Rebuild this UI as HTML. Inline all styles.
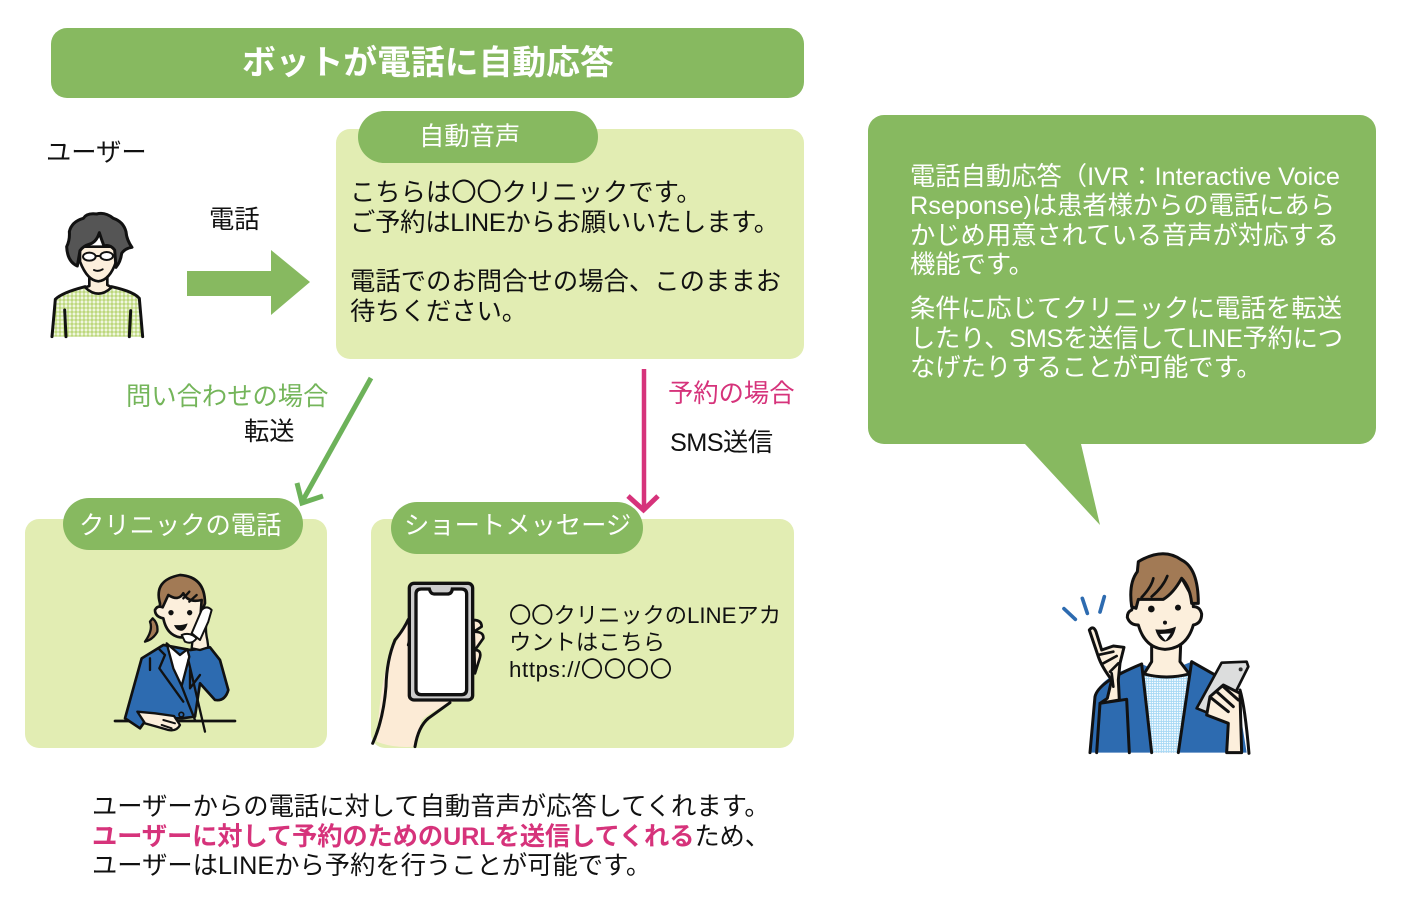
<!DOCTYPE html>
<html><head><meta charset="utf-8"><style>
html,body{margin:0;padding:0;background:#fff}
svg{display:block}
text{font-family:"Liberation Sans","Noto Sans CJK JP",sans-serif;font-size:25.3px;fill:#111}
.w{fill:#fff}
.o{stroke:#111;stroke-linejoin:round;stroke-linecap:round}
</style></head><body>
<svg width="1404" height="904" viewBox="0 0 1404 904" xmlns="http://www.w3.org/2000/svg">
<defs>
<pattern id="pl" width="12" height="12" patternUnits="userSpaceOnUse"><rect width="12" height="12" fill="#dcebb4"/><path d="M0 3H12M0 9H12M3 0V12M9 0V12" stroke="#fff" stroke-width="2"/><path d="M6 0V12M0 6H12" stroke="#9cc43c" stroke-width="2.500"/></pattern>
<pattern id="bl" width="15" height="15" patternUnits="userSpaceOnUse"><rect width="15" height="15" fill="#fff"/><path d="M4 0V15M11 0V15M0 4H15M0 11H15" stroke="#a6d8f5" stroke-width="3"/></pattern>
</defs>

<rect x="51" y="28" width="753" height="70" rx="16" fill="#87b960"/>
<text class="w" x="242" y="74" style="font-size:33.8px;font-weight:700">ボットが電話に自動応答</text>

<text x="46" y="161">ユーザー</text>
<text x="209" y="228">電話</text>
<path d="M187 271H271V250L310 282L271 315V296H187Z" fill="#87b960"/>

<rect x="336" y="129" width="468" height="230" rx="14" fill="#e2edb3"/>
<rect x="358" y="111" width="240" height="52" rx="26" fill="#87b960"/>
<text class="w" x="419" y="145">自動音声</text>
<text x="350" y="201">こちらは〇〇クリニックです。</text>
<text x="350" y="231" textLength="429">ご予約はLINEからお願いいたします。</text>
<text x="350" y="290" textLength="431">電話でのお問合せの場合、このままお</text>
<text x="350" y="320">待ちください。</text>

<path d="M371 378L303 500" fill="none" stroke="#6db25a" stroke-width="5"/>
<path d="M297 483L302 503L323 496" fill="none" stroke="#6db25a" stroke-width="5"/>
<path d="M644 369V510" fill="none" stroke="#d6337b" stroke-width="4.5"/>
<path d="M628 496L643.500 510L658 496" fill="none" stroke="#d6337b" stroke-width="5"/>
<text x="126" y="405" style="fill:#74b55a">問い合わせの場合</text>
<text x="244" y="440">転送</text>
<text x="668" y="402" style="fill:#d6337b">予約の場合</text>
<text x="670" y="451" textLength="103">SMS送信</text>

<rect x="25" y="519" width="302" height="229" rx="14" fill="#e2edb3"/>
<rect x="63" y="498" width="240" height="52" rx="26" fill="#87b960"/>
<text class="w" x="79" y="534">クリニックの電話</text>

<rect x="371" y="519" width="423" height="229" rx="14" fill="#e2edb3"/>
<rect x="391" y="502" width="252" height="52" rx="26" fill="#87b960"/>
<text class="w" x="404" y="534">ショートメッセージ</text>
<text x="509" y="623" style="font-size:22.3px" textLength="272">〇〇クリニックのLINEアカ</text>
<text x="509" y="650" style="font-size:22.3px">ウントはこちら</text>
<text x="509" y="677" style="font-size:22.3px" textLength="163">https://〇〇〇〇</text>

<path d="M868 131a16 16 0 0 1 16-16H1360a16 16 0 0 1 16 16V428a16 16 0 0 1-16 16H1081L1100 525L1025 444H884a16 16 0 0 1-16-16Z" fill="#87b960"/>
<text class="w" x="910" y="185" textLength="430">電話自動応答（IVR：Interactive Voice</text>
<text class="w" x="910" y="214" textLength="425">Rseponse)は患者様からの電話にあら</text>
<text class="w" x="910" y="244" textLength="429">かじめ用意されている音声が対応する</text>
<text class="w" x="910" y="273">機能です。</text>
<text class="w" x="910" y="317" textLength="432">条件に応じてクリニックに電話を転送</text>
<text class="w" x="910" y="347" textLength="433">したり、SMSを送信してLINE予約につ</text>
<text class="w" x="910" y="376">なげたりすることが可能です。</text>

<text x="92" y="815">ユーザーからの電話に対して自動音声が応答してくれます。</text>
<text x="92" y="845" textLength="678"><tspan style="fill:#d6337b;font-weight:700">ユーザーに対して予約のためのURLを送信してくれる</tspan>ため、</text>
<text x="92" y="874">ユーザーはLINEから予約を行うことが可能です。</text>

<!-- user -->
<g transform="translate(30 190) scale(.3333)">
<path d="M68 440L76 328Q95 308 165 290Q205 325 245 290Q312 305 328 325L338 440Z" fill="url(#pl)"/>
<path class="o" d="M66 440L76 328Q95 308 165 290M245 290Q312 305 328 325L338 440M104 360L108 440M302 362L298 440" fill="none" stroke-width="9"/>
<path class="o" d="M178 255V288L165 292Q205 330 245 292L232 285V255Z" fill="#fcefdc" stroke-width="8"/>
<path class="o" d="M150 170V215Q172 272 205 274Q240 270 258 215V170Z" fill="#fcefdc" stroke-width="8"/>
<path class="o" d="M142 228Q112 215 110 170Q120 150 118 125Q125 95 160 85Q170 68 200 72Q225 65 250 85Q280 95 288 125Q290 150 306 172Q285 175 275 190Q272 215 258 232L254 180Q240 162 222 168Q215 150 208 128Q200 155 180 162Q160 168 150 182Z" fill="#555" stroke-width="9"/>
<ellipse cx="178" cy="200" rx="19" ry="12" fill="#fff" stroke="#111" stroke-width="6"/>
<ellipse cx="230" cy="198" rx="19" ry="12" fill="#fff" stroke="#111" stroke-width="6"/>
<path class="o" d="M197 198L211 198M192 240Q205 246 218 238" fill="none" stroke-width="6"/>
</g>

<!-- operator -->
<g transform="translate(100 560) scale(.3333)">
<path class="o" d="M45 483H405" stroke-width="8" fill="none"/>
<path class="o" d="M180 130Q160 60 240 45Q315 50 315 130L300 170L180 170Z" fill="#a27a55" stroke-width="8"/>
<path class="o" d="M158 175Q175 190 172 215Q160 238 135 245Q160 210 150 185Z" fill="#a27a55" stroke-width="7"/>
<path class="o" d="M205 105Q235 125 250 100Q265 130 305 120L300 190Q280 235 240 232Q200 225 190 175Q165 170 165 150Q172 135 188 142Z" fill="#fcefdc" stroke-width="8"/>
<circle cx="213" cy="158" r="8" fill="#111"/><circle cx="269" cy="158" r="8" fill="#111"/>
<path d="M222 195Q245 197 263 190Q255 215 240 212Q228 210 222 195Z" fill="#111"/>
<path class="o" d="M250 115L268 95M268 125L290 105" stroke-width="7" fill="none"/>
<path class="o" d="M125 295L190 255L270 270L330 262L360 300L385 390Q375 425 345 420L300 370L285 470L245 475H165L145 470L120 505L75 475Z" fill="#2d6bb0" stroke-width="8"/>
<path class="o" d="M200 250L240 285L262 268L268 290L245 378L220 325Z" fill="#fff" stroke-width="7"/>
<path class="o" d="M178 268L195 285L178 325L250 425M150 295V330M270 330V385L300 345M245 378L265 430L285 480M265 300L315 515" fill="none" stroke-width="7"/>
<path class="o" d="M112 455L165 460L222 468L240 495Q230 515 205 510L170 500L135 490Z" fill="#fcefdc" stroke-width="7"/>
<path class="o" d="M190 480L225 490M185 495L215 505" fill="none" stroke-width="6"/>
<path class="o" d="M300 270L325 262L322 240Q315 210 320 185L295 190L280 220L275 265Z" fill="#fcefdc" stroke-width="7"/>
<path class="o" d="M275 220L305 150Q320 135 335 150L325 185L300 240Z" fill="#fff" stroke-width="6"/>
<path class="o" d="M245 225Q270 215 290 235Q275 255 255 245Z" fill="#fff" stroke-width="6"/>
<circle cx="244" cy="464" r="7" fill="#2d6bb0" stroke="#111" stroke-width="5"/>
</g>

<!-- phone -->
<g transform="translate(360 570) scale(.3333)">
<path d="M50 515Q60 350 85 270Q110 210 145 150L160 155L150 370L280 395Q220 420 185 450L165 530Q100 535 50 515Z" fill="#fcebd6"/>
<path class="o" d="M38 520Q70 450 78 350Q80 270 105 210Q130 180 145 148Q160 150 160 170L145 225" fill="none" stroke-width="9"/>
<path class="o" d="M165 530Q175 470 205 445L270 398" fill="none" stroke-width="9"/>
<path class="o" d="M340 150Q365 150 365 170L342 185Q372 185 370 205L345 240Q365 240 360 262L345 310Z" fill="#fcebd6" stroke-width="8"/>
<rect x="148" y="40" width="190" height="350" rx="14" fill="#ccc" stroke="#111" stroke-width="10"/>
<path d="M184 57H208Q212 72 222 72H262Q275 72 277 57H304Q320 57 320 72V358Q320 374 304 374H184Q168 374 168 358V72Q168 57 184 57Z" fill="#fff" stroke="#111" stroke-width="10"/>
</g>

<!-- man -->
<g transform="translate(1050 540) scale(.3333)">
<path class="o" d="M42 206L76 238M97 175L112 220M163 170L150 216" style="stroke:#2d6bb0" stroke-width="11" fill="none"/>
<path d="M120 638L135 470Q145 410 275 372L340 400L425 365Q500 400 560 450L590 638Z" fill="#2d6bb0"/>
<path d="M283 405H415L385 638H305Z" fill="url(#bl)"/>
<path class="o" d="M305 315V365L282 402Q350 420 418 402L390 365L392 315Z" fill="#fcefdc" stroke-width="9"/>
<path class="o" d="M275 372L305 638M425 365L385 638M120 638L135 470Q145 425 275 372M425 365L495 405M570 450Q585 500 597 640" fill="none" stroke-width="9"/>
<path class="o" d="M245 210Q232 215 232 232Q240 255 265 255Q285 325 345 328Q410 325 430 255Q455 250 455 222Q450 200 430 200L425 100L280 100Z" fill="#fcefdc" stroke-width="9"/>
<path class="o" d="M245 200Q235 130 262 95L265 65Q340 20 395 60Q445 85 445 190L425 190Q420 140 395 115Q370 160 340 178H265L258 205Z" fill="#a27a55" stroke-width="9"/>
<path class="o" d="M275 172Q305 140 310 115M305 170Q340 140 352 108M395 115L420 160" fill="none" stroke-width="8"/>
<circle cx="304" cy="207" r="10" fill="#111"/><circle cx="384" cy="203" r="9" fill="#111"/><circle cx="345" cy="248" r="6" fill="#111"/>
<path d="M316 268Q350 272 378 260Q370 300 345 305Q325 300 316 268Z" fill="#111"/>
<path d="M330 282L362 280L347 302Z" fill="#fff"/>
<path class="o" d="M150 490L172 475L185 420Q155 380 145 350L118 270Q130 255 138 275L155 330L190 318L222 322L210 370L205 420L208 480Z" fill="#fcefdc" stroke-width="9"/>
<path class="o" d="M145 345L190 335M160 370L200 348M180 395L205 370M185 400L190 440" fill="none" stroke-width="8"/>
<path class="o" d="M150 490L230 478L238 638M150 490L140 638" fill="#2d6bb0" stroke-width="9"/>
<path class="o" d="M440 505L515 368L590 365L595 380L525 520L490 525Z" fill="#dcdddd" stroke-width="8"/>
<circle cx="572" cy="388" r="6" fill="#333"/>
<path class="o" d="M470 525L535 550L530 638H575L570 460L520 435L480 470Z" fill="#fcefdc" stroke-width="9"/>
<path class="o" d="M485 475L535 515M500 455L550 500M520 440L565 480" fill="none" stroke-width="9"/>
</g>
</svg>
</body></html>
